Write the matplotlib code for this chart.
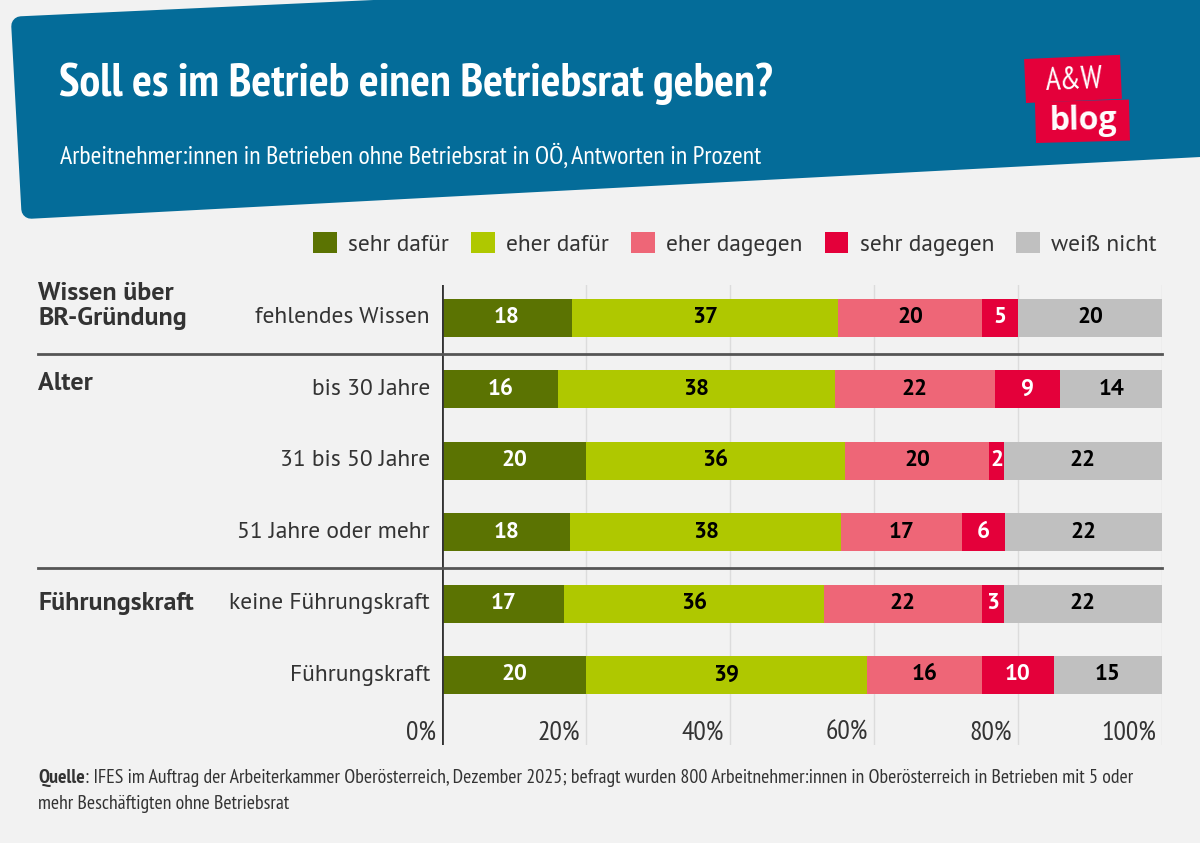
import numpy as np
import matplotlib.pyplot as plt
from matplotlib.patches import Polygon, Rectangle
from matplotlib.lines import Line2D
import matplotlib.transforms as mtransforms

# data
rows = ['fehlendes Wissen', 'bis 30 Jahre', '31 bis 50 Jahre', '51 Jahre oder mehr',
        'keine Führungskraft', 'Führungskraft']
groups = [('Wissen über\nBR-Gründung', 0, -0.17), ('Alter', 1, -0.08), ('Führungskraft', 4, 0.0)]
series = ['sehr dafür', 'eher dafür', 'eher dagegen', 'sehr dagegen', 'weiß nicht']
sehr_dafuer = [18, 16, 20, 18, 17, 20]
eher_dafuer = [37, 38, 36, 38, 36, 39]
eher_dagegen = [20, 22, 20, 17, 22, 16]
sehr_dagegen = [5, 9, 2, 6, 3, 10]
weiss_nicht = [20, 14, 22, 22, 22, 15]
separators = [0.5, 3.5]
xticks = [0, 20, 40, 60, 80, 100]

colors = ['#5b7302', '#afc800', '#ee6677', '#e4003a', '#c0c0c0']
text_colors = ['white', 'black', 'black', 'white', 'black']
BG = '#f2f2f2'
BLUE = '#046c99'
RED = '#e4003a'
DARK = '#333333'
W, H = 1200, 843
SANS = ['PT Sans', 'Lato', 'DejaVu Sans']
NARROW = ['PT Sans Narrow', 'Archivo Narrow', 'DejaVu Sans']

plt.rcParams['font.family'] = SANS

fig = plt.figure(figsize=(W / 100, H / 100), dpi=100, facecolor=BG)


def px(x, y):
    return (x / W, 1 - y / H)


# header band (slightly tilted, rounded corners)
band = Polygon([px(21, 26), px(1300, -33), px(1300, 142), px(31, 209)],
               closed=True, transform=fig.transFigure, facecolor=BLUE,
               edgecolor=BLUE, linewidth=14, joinstyle='round', zorder=0)
fig.patches.append(band)

fig.text(*px(59, 84), 'Soll es im Betrieb einen Betriebsrat geben?', color='white',
         fontsize=33.5, fontweight='bold', family=NARROW, va='center', ha='left')
fig.text(*px(60, 156), 'Arbeitnehmer:innen in Betrieben ohne Betriebsrat in OÖ, Antworten in Prozent',
         color='white', fontsize=18.6, family=NARROW, va='center', ha='left')

# logo
for (x0, y0, w, h, ang) in [(1026, 103, 96, 44, 2.5), (1036, 143, 94, 41, 1.5)]:
    r = Rectangle((x0, H - y0), w, h, facecolor=RED, edgecolor='none', zorder=1)
    r.set_transform(mtransforms.Affine2D().rotate_deg_around(x0, H - y0, ang))
    fig.patches.append(r)
fig.text(*px(1074, 81), 'A&W', color='white', fontsize=23, ha='center', va='center',
         family=NARROW, rotation=2)
fig.text(*px(1083, 121), 'blog', color='white', fontsize=23, fontweight='bold',
         ha='center', va='center', family=['Open Sans', 'DejaVu Sans'], rotation=1)

# chart
ax = fig.add_axes([442 / W, 1 - 745 / H, 720 / W, 460 / H])
ax.set_facecolor(BG)
data = np.array([sehr_dafuer, eher_dafuer, eher_dagegen, sehr_dagegen, weiss_nicht], dtype=float)
shares = data / data.sum(axis=0) * 100
y = np.arange(len(rows))
left = np.zeros(len(rows))
handles = []
for i, name in enumerate(series):
    bars = ax.barh(y, shares[i], left=left, height=0.53, color=colors[i],
                   label=name, zorder=2)
    ax.bar_label(bars, labels=[str(int(v)) for v in data[i]], label_type='center',
                 color=text_colors[i], fontsize=16.5, fontweight='bold')
    left += shares[i]
    handles.append(bars)

ax.set_xlim(0, 100)
ax.set_ylim(5.98, -0.46)
for xt in xticks[1:]:
    ax.axvline(xt, color='#dcdcdc', lw=1, zorder=1)
ax.axvline(0, color=DARK, lw=2, zorder=3)
for xt in xticks:
    ax.text(xt - 0.8, 5.81, f'{xt}%', ha='right', va='center', fontsize=20,
            color=DARK, family=NARROW)
for s in ax.spines.values():
    s.set_visible(False)
ax.set_xticks([])
ax.set_yticks([])

# row labels and group labels
for i, r in enumerate(rows):
    ax.text(-1.7, i, r, ha='right', va='center', fontsize=16.9, color=DARK)
tr = mtransforms.blended_transform_factory(fig.transFigure, ax.transData)
for label, i, dy in groups:
    ax.text(38 / W, i + dy, label, transform=tr,
            ha='left', va='center', fontsize=18.7, fontweight='bold', color=DARK,
            linespacing=1.1)
for s in separators:
    ax.add_line(Line2D([38 / W, 1162 / W], [s, s], transform=tr, color='#555555',
                       lw=2, clip_on=False, zorder=3))

# legend
fig.legend(handles=handles, labels=series, ncol=5, frameon=False,
           loc='center right', bbox_to_anchor=(1178 / W, 1 - 244 / H),
           fontsize=16.8, handlelength=1.0, handleheight=1.0, handletextpad=0.5,
           columnspacing=0.95, labelcolor=DARK)

# footer
q = fig.text(*px(38, 778), 'Quelle', fontsize=14.3, fontweight='bold', color=DARK,
             family=NARROW, va='center', ha='left')
fig.canvas.draw()
bb = q.get_window_extent()
fig.text(bb.x1 / W, 1 - 778 / H,
         ': IFES im Auftrag der Arbeiterkammer Oberösterreich, Dezember 2025; befragt wurden '
         '800 Arbeitnehmer:innen in Oberösterreich in Betrieben mit 5 oder',
         fontsize=14.3, color=DARK, family=NARROW, va='center', ha='left')
fig.text(*px(38, 804), 'mehr Beschäftigten ohne Betriebsrat', fontsize=14.3,
         color=DARK, family=NARROW, va='center', ha='left')

fig.savefig('out.png', dpi=100, facecolor=BG)
